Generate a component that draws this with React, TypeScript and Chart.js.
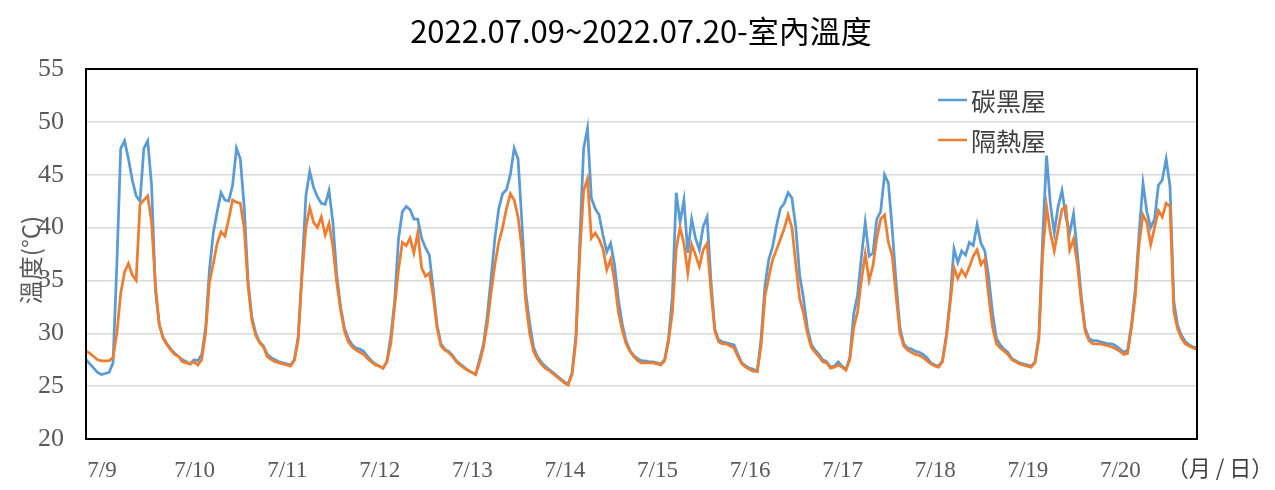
import { useEffect, useRef } from "react";
import { Chart, registerables } from "chart.js";
Chart.register(...registerables);

// hourly readings, 7/9 00:00 .. 7/21 00:00
const dateLabels = ["7/9", "7/10", "7/11", "7/12", "7/13", "7/14", "7/15", "7/16", "7/17", "7/18", "7/19", "7/20"];
const axisUnit = "（月 / 日）";
const titleText = "2022.07.09~2022.07.20-室內溫度";
const yTitle = "溫度(°C)";

const carbonBlack = [
  27.5, 27.1, 26.7, 26.3, 26.1, 26.2, 26.3, 27.2, 36.5, 47.5, 48.2, 46.5, 44.5, 43.0, 42.5, 47.5, 48.2, 44.0, 34.0, 30.8, 29.6, 29.0, 28.5, 28.1,
  27.8, 27.5, 27.3, 27.1, 27.5, 27.4, 28.0, 30.5, 36.0, 39.5, 41.5, 43.3, 42.6, 42.5, 44.0, 47.5, 46.5, 42.0, 35.0, 31.5, 30.0, 29.2, 28.8, 28.0,
  27.7, 27.5, 27.3, 27.2, 27.1, 27.0, 27.5, 29.7, 36.0, 43.0, 45.3, 43.8, 42.9, 42.3, 42.2, 43.5, 40.5, 35.5, 32.5, 30.5, 29.5, 28.9, 28.6, 28.5,
  28.3, 27.8, 27.4, 27.1, 26.9, 26.7, 27.3, 29.7, 33.0, 38.9, 41.5, 42.0, 41.7, 40.8, 40.8, 39.0, 38.1, 37.4, 34.2, 30.8, 29.0, 28.5, 28.3, 27.9,
  27.4, 27.1, 26.8, 26.5, 26.3, 26.1, 27.5, 28.9, 31.6, 35.2, 39.0, 41.8, 43.2, 43.6, 45.0, 47.5, 46.5, 40.5, 33.8, 31.0, 28.7, 27.8, 27.3, 26.9,
  26.6, 26.3, 26.0, 25.7, 25.4, 25.2, 26.3, 29.8, 38.7, 47.5, 49.4, 42.8, 41.8, 41.2, 39.3, 37.7, 38.5, 36.5, 33.2, 30.9, 29.3, 28.4, 27.9, 27.6,
  27.4, 27.4, 27.3, 27.3, 27.2, 27.1, 27.5, 29.5, 33.5, 43.3, 40.5, 42.6, 37.6, 40.8, 39.0, 37.9, 40.1, 41.0, 35.0, 30.4, 29.4, 29.2, 29.1, 29.0,
  28.9, 28.0, 27.2, 26.9, 26.7, 26.6, 26.4, 29.5, 34.5, 37.0, 38.2, 40.2, 41.8, 42.3, 43.3, 42.8, 40.0, 35.5, 33.3, 30.5, 29.0, 28.4, 28.0, 27.5,
  27.3, 26.8, 26.9, 27.3, 26.9, 26.6, 27.7, 31.8, 33.6, 37.2, 40.5, 37.3, 37.6, 40.8, 41.5, 45.0, 44.2, 39.8, 34.8, 30.5, 29.0, 28.6, 28.5, 28.3,
  28.2, 28.0, 27.7, 27.2, 27.0, 26.9, 27.4, 29.8, 33.2, 38.0, 36.7, 37.8, 37.4, 38.6, 38.3, 40.3, 38.5, 37.8, 35.3, 31.9, 29.5, 28.9, 28.5, 28.2,
  27.6, 27.4, 27.2, 27.1, 27.0, 26.9, 27.3, 29.7, 39.0, 46.8, 42.2, 39.5, 42.0, 43.5, 41.0, 39.5, 41.3, 37.5, 33.5, 30.5, 29.5, 29.3, 29.3, 29.2,
  29.1, 29.0, 29.0, 28.8, 28.5, 28.2, 28.4, 30.8, 34.2, 39.5, 44.2, 41.5, 40.0, 40.8, 44.0, 44.5, 46.5, 43.9, 33.0, 30.7, 29.8, 29.2, 28.9, 28.7,
  28.6,
];

const insulated = [
  28.3, 28.1, 27.8, 27.5, 27.4, 27.4, 27.4, 27.7, 30.0, 33.8, 35.8, 36.6, 35.5, 35.0, 42.2, 42.6, 43.0, 40.5, 34.5, 30.8, 29.5, 28.9, 28.4, 28.0,
  27.8, 27.3, 27.2, 27.1, 27.3, 27.0, 27.5, 30.0, 34.8, 36.6, 38.5, 39.6, 39.2, 40.8, 42.6, 42.4, 42.3, 40.0, 34.5, 31.2, 29.8, 29.1, 28.7, 27.8,
  27.5, 27.3, 27.2, 27.1, 27.0, 26.9, 27.4, 29.3, 35.5, 40.0, 41.9, 40.5, 40.0, 41.0, 39.3, 40.4, 38.2, 34.8, 32.2, 30.2, 29.2, 28.7, 28.4, 28.2,
  28.0, 27.6, 27.3, 27.0, 26.9, 26.7, 27.3, 29.0, 32.5, 36.0, 38.6, 38.3, 39.0, 37.6, 39.5, 36.2, 35.4, 35.7, 33.5, 30.5, 28.8, 28.4, 28.2, 27.8,
  27.3, 27.0, 26.7, 26.5, 26.3, 26.1, 27.2, 28.6, 30.8, 33.8, 36.5, 38.6, 40.0, 41.8, 43.2, 42.6, 41.0, 38.0, 33.0, 30.0, 28.3, 27.6, 27.1, 26.7,
  26.5, 26.2, 25.9, 25.6, 25.3, 25.1, 26.1, 29.3, 37.5, 43.5, 44.6, 39.0, 39.5, 38.9, 38.0, 36.0, 37.0, 35.0, 32.0, 30.3, 29.0, 28.3, 27.8, 27.4,
  27.2, 27.2, 27.2, 27.2, 27.1, 27.0, 27.4, 29.2, 32.0, 38.0, 40.0, 38.5, 35.7, 38.4, 37.4, 36.3, 37.9, 38.5, 34.0, 30.2, 29.2, 29.0, 29.0, 28.8,
  28.6, 27.8, 27.1, 26.8, 26.6, 26.4, 26.4, 28.8, 33.5, 35.3, 37.0, 37.9, 38.9, 39.9, 41.2, 40.0, 36.5, 33.3, 31.9, 30.0, 28.7, 28.2, 27.8, 27.3,
  27.2, 26.7, 26.8, 27.0, 26.8, 26.5, 27.5, 30.5, 32.0, 35.0, 37.5, 35.0, 36.4, 39.0, 40.8, 41.2, 38.6, 37.3, 33.5, 30.0, 28.8, 28.4, 28.2, 28.0,
  27.9, 27.7, 27.4, 27.1, 26.9, 26.8, 27.3, 29.5, 32.8, 36.2, 35.2, 36.0, 35.4, 36.3, 37.3, 37.9, 36.5, 37.0, 33.5, 30.6, 29.0, 28.6, 28.3, 28.0,
  27.5, 27.3, 27.1, 27.0, 26.9, 26.8, 27.2, 29.4, 37.5, 42.0, 39.5, 37.8, 39.8, 41.7, 42.0, 37.9, 38.9, 36.5, 33.0, 30.2, 29.3, 29.0, 29.0, 29.0,
  28.9, 28.8, 28.7, 28.5, 28.3, 28.0, 28.1, 30.5, 33.5, 38.5, 41.2, 40.5, 38.4, 40.0, 41.6, 41.0, 42.3, 42.0, 32.0, 30.4, 29.5, 29.0, 28.8, 28.6,
  28.5,
];

const yTicks = { min: 20, max: 55, step: 5 };

const CJK = '"Noto Sans CJK TC", "Noto Sans", sans-serif';
const SERIF = '"Liberation Serif", "DejaVu Serif", serif';

const decorPlugin = {
  id: "decor",
  afterDraw(chart: any) {
    const { ctx, chartArea } = chart;
    ctx.save();
    // plot frame
    ctx.strokeStyle = "#000";
    ctx.lineWidth = 2;
    ctx.strokeRect(chartArea.left, chartArea.top, chartArea.right - chartArea.left, chartArea.bottom - chartArea.top);

    // title
    ctx.fillStyle = "#000";
    ctx.font = `31px ${CJK}`;
    ctx.textAlign = "center";
    ctx.textBaseline = "middle";
    ctx.fillText(titleText, 641, 31);

    // y title
    ctx.save();
    ctx.translate(31, 260);
    ctx.rotate(-Math.PI / 2);
    ctx.fillStyle = "#595959";
    ctx.font = `24px ${CJK}`;
    ctx.fillText(yTitle, 0, 0);
    ctx.restore();

    // unit label right of the x axis
    ctx.fillStyle = "#404040";
    ctx.font = `22px ${CJK}`;
    ctx.fillText(axisUnit, 1220, 468);

    // legend inside the plot
    ctx.textAlign = "left";
    ctx.font = `25px ${CJK}`;
    chart.data.datasets.forEach((ds: any, i: number) => {
      const y = 100 + i * 40;
      ctx.strokeStyle = ds.borderColor;
      ctx.lineWidth = 2.5;
      ctx.beginPath();
      ctx.moveTo(938, y);
      ctx.lineTo(967, y);
      ctx.stroke();
      ctx.fillStyle = "#404040";
      ctx.fillText(ds.label, 971, y + 1);
    });
    ctx.restore();
  },
};

export default function App() {
  const canvasRef = useRef<HTMLCanvasElement>(null);

  useEffect(() => {
    if (!canvasRef.current) return;
    const ctx = canvasRef.current.getContext("2d");
    if (!ctx) return;

    const chart = new Chart(ctx, {
      type: "line",
      data: {
        datasets: [
          { label: "碳黑屋", data: carbonBlack.map((y, i) => ({ x: i, y })), borderColor: "#5B9BD5", borderWidth: 2.75, pointRadius: 0, tension: 0, order: 2 },
          { label: "隔熱屋", data: insulated.map((y, i) => ({ x: i, y })), borderColor: "#ED7D31", borderWidth: 2.75, pointRadius: 0, tension: 0, order: 1 },
        ],
      },
      options: {
        responsive: true,
        maintainAspectRatio: false,
        animation: false,
        layout: { padding: { top: 69, right: 78, left: 0, bottom: 0 } },
        plugins: { legend: { display: false }, title: { display: false }, tooltip: { enabled: false } },
        scales: {
          x: {
            type: "linear",
            min: 0,
            max: dateLabels.length * 24,
            afterFit: (s: any) => { s.height = 51; },
            grid: { display: false, drawTicks: false },
            border: { display: false },
            ticks: {
              stepSize: 24,
              autoSkip: false,
              maxRotation: 0,
              labelOffset: 16,
              padding: 18,
              color: "#595959",
              font: { family: SERIF, size: 23 },
              callback: (v) => dateLabels[Number(v) / 24] ?? "",
            },
          },
          y: {
            min: yTicks.min,
            max: yTicks.max,
            afterFit: (s: any) => { s.width = 86; },
            grid: { color: "#D9D9D9", lineWidth: 1.5, drawTicks: false },
            border: { display: false },
            ticks: { stepSize: yTicks.step, padding: 22, color: "#595959", font: { family: SERIF, size: 26 } },
          },
        },
      },
      plugins: [decorPlugin],
    });

    return () => chart.destroy();
  }, []);

  return (
    <div style={{ position: "fixed", left: 0, top: 0, width: 1275, height: 490, background: "#fff" }}>
      <canvas ref={canvasRef} />
    </div>
  );
}
